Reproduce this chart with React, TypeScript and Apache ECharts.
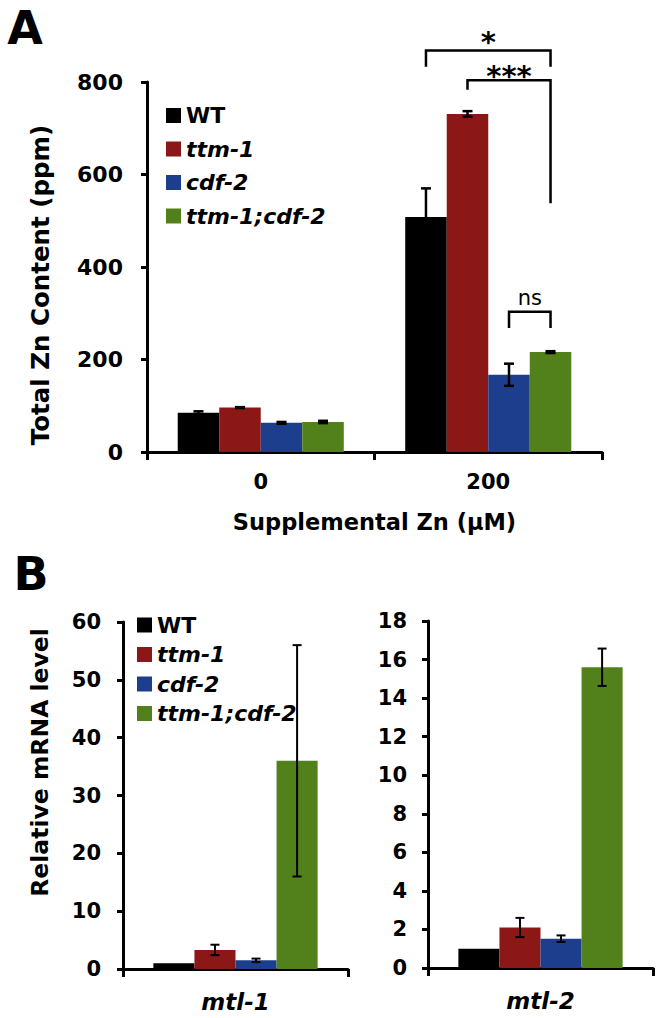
import React, { useEffect, useRef } from 'react';
import * as echarts from 'echarts';

// ---------- data ----------
const genotypes = ['WT', 'ttm-1', 'cdf-2', 'ttm-1;cdf-2'];
const genotypeColors = ['#000000', '#8b1717', '#1c3e8d', '#52801b'];

// Panel A: total Zn content (ppm) by supplemental Zn (µM)
const zincCategories = ['0', '200'];
const zincWT = [85, 508];
const zincWTErr = [3, 62];
const zincTtm1 = [96, 731];
const zincTtm1Err = [1, 6];
const zincCdf2 = [63, 167];
const zincCdf2Err = [2, 24];
const zincDouble = [65, 216];
const zincDoubleErr = [2.5, 2];
const zincAxisMin = 0;
const zincAxisMax = 800;
const zincAxisStep = 200;

// significance brackets in panel A (category 200)
const bracketLabels = ['*', '***', 'ns'];
const bracketLeftGenotype = [0, 1, 2];
const bracketRightGenotype = [3, 3, 3];
const bracketTopValue = [868, 804, 303];
const bracketLeftEndValue = [833, 783, 268];
const bracketRightEndValue = [833, 538, 268];
const bracketLabelValue = [886, 812, 333];

// Panel B: relative mRNA level
const mtl1Categories = ['mtl-1'];
const mtl1Values = [1.0, 3.3, 1.5, 36.0];
const mtl1Errors = [0, 0.9, 0.3, 20.0];
const mtl1AxisMax = 60;
const mtl1AxisStep = 10;

const mtl2Categories = ['mtl-2'];
const mtl2Values = [1.0, 2.1, 1.52, 15.6];
const mtl2Errors = [0, 0.5, 0.17, 0.97];
const mtl2AxisMax = 18;
const mtl2AxisStep = 2;

// ---------- styling ----------
const FONT = '"DejaVu Sans", "Liberation Sans", Arial, sans-serif';
const GAP = 0.27;

const zincSeriesValues = [zincWT, zincTtm1, zincCdf2, zincDouble];
const zincSeriesErrors = [zincWTErr, zincTtm1Err, zincCdf2Err, zincDoubleErr];

function barOffsetX(api: any, cat: number, gi: number) {
  const band = api.size([1, 0])[0];
  const groupW = band * (1 - GAP);
  const bw = groupW / genotypes.length;
  return api.coord([cat, 0])[0] - groupW / 2 + bw * (gi + 0.5);
}

function makeErrorRender(capHalf: number, lw: number) {
  return (params: any, api: any) => {
    const cat = api.value(0);
    const mean = api.value(1);
    const err = api.value(2);
    const gi = api.value(3);
    if (!err) return null;
    const cx = barOffsetX(api, cat, gi);
    const yHi = api.coord([cat, mean + err])[1];
    const yLo = api.coord([cat, mean - err])[1];
    const st = { stroke: '#000', lineWidth: lw };
    return {
      type: 'group',
      children: [
        { type: 'line', shape: { x1: cx, y1: yHi, x2: cx, y2: yLo }, style: st },
        { type: 'line', shape: { x1: cx - capHalf, y1: yHi, x2: cx + capHalf, y2: yHi }, style: st },
        { type: 'line', shape: { x1: cx - capHalf, y1: yLo, x2: cx + capHalf, y2: yLo }, style: st },
      ],
    };
  };
}

const bracketRender = (params: any, api: any) => {
  const i = params.dataIndex;
  const cat = api.value(0);
  const xl = barOffsetX(api, cat, api.value(1));
  const xr = barOffsetX(api, cat, api.value(2));
  const yTop = api.coord([cat, api.value(3)])[1];
  const yL = api.coord([cat, api.value(4)])[1];
  const yR = api.coord([cat, api.value(5)])[1];
  const yText = api.coord([cat, api.value(6)])[1];
  const label = bracketLabels[i];
  const isNs = label === 'ns';
  const st = { stroke: '#000', lineWidth: 2.5, fill: 'none' };
  return {
    type: 'group',
    children: [
      { type: 'polyline', shape: { points: [[xl, yL], [xl, yTop], [xr, yTop], [xr, yR]] }, style: st },
      {
        type: 'text',
        x: (xl + xr) / 2,
        y: yText,
        style: {
          text: label,
          fontFamily: FONT,
          fontSize: isNs ? 21 : 29,
          fontWeight: isNs ? 'normal' : 'bold',
          fill: '#000',
          align: 'center',
          verticalAlign: 'middle',
        },
      },
    ],
  };
};

const axisLineStyle = { show: true, lineStyle: { color: '#000', width: 3 } };
const axisTickStyle = (len: number) => ({ show: true, length: len, lineStyle: { color: '#000', width: 3 } });
const tickLabel = (size: number, margin: number) => ({
  fontFamily: FONT,
  fontSize: size,
  fontWeight: 'bold',
  color: '#000',
  margin,
});

const legendRich = (lh: number) => ({
  n: { fontFamily: FONT, fontSize: 22, fontWeight: 'bold', color: '#000', lineHeight: lh },
  i: { fontFamily: FONT, fontSize: 22, fontWeight: 'bold', fontStyle: 'italic', color: '#000', lineHeight: lh },
});
const legendFormatter = (name: string) => (name === 'WT' ? `{n|${name}}` : `{i|${name}}`);

function buildOption() {
  const series: any[] = [];
  genotypes.forEach((g, gi) => {
    series.push({
      type: 'bar',
      name: g,
      xAxisIndex: 0,
      yAxisIndex: 0,
      data: zincSeriesValues[gi],
      itemStyle: { color: genotypeColors[gi] },
      barGap: '0%',
      barCategoryGap: `${GAP * 100}%`,
      silent: true,
    });
  });
  [mtl1Values, mtl2Values].forEach((vals, k) => {
    genotypes.forEach((g, gi) => {
      series.push({
        type: 'bar',
        name: g,
        xAxisIndex: k + 1,
        yAxisIndex: k + 1,
        data: [vals[gi]],
        itemStyle: { color: genotypeColors[gi] },
        barGap: '0%',
        barCategoryGap: `${GAP * 100}%`,
        silent: true,
      });
    });
  });

  const zincErrData: number[][] = [];
  genotypes.forEach((g, gi) => {
    zincCategories.forEach((c, ci) => {
      zincErrData.push([ci, zincSeriesValues[gi][ci], zincSeriesErrors[gi][ci], gi]);
    });
  });
  series.push({
    type: 'custom',
    xAxisIndex: 0,
    yAxisIndex: 0,
    renderItem: makeErrorRender(5, 2.5),
    data: zincErrData,
    encode: { x: 0, y: 1 },
    z: 5,
    silent: true,
  });
  [
    [mtl1Values, mtl1Errors],
    [mtl2Values, mtl2Errors],
  ].forEach(([vals, errs], k) => {
    series.push({
      type: 'custom',
      xAxisIndex: k + 1,
      yAxisIndex: k + 1,
      renderItem: makeErrorRender(4.5, 2),
      data: genotypes.map((g, gi) => [0, vals[gi], errs[gi], gi]),
      encode: { x: 0, y: 1 },
      z: 5,
      silent: true,
    });
  });

  series.push({
    type: 'custom',
    xAxisIndex: 0,
    yAxisIndex: 0,
    renderItem: bracketRender,
    data: bracketLabels.map((l, i) => [
      1,
      bracketLeftGenotype[i],
      bracketRightGenotype[i],
      bracketTopValue[i],
      bracketLeftEndValue[i],
      bracketRightEndValue[i],
      bracketLabelValue[i],
    ]),
    encode: { x: 0, y: 3 },
    z: 6,
    silent: true,
    clip: false,
  });

  return {
    animation: false,
    backgroundColor: '#ffffff',
    textStyle: { fontFamily: FONT },
    grid: [
      { left: 147, top: 82, width: 455, height: 370, outerBoundsMode: 'none' },
      { left: 123, top: 622, width: 225, height: 347, outerBoundsMode: 'none' },
      { left: 428, top: 621, width: 225, height: 347, outerBoundsMode: 'none' },
    ],
    legend: [
      {
        data: genotypes,
        orient: 'vertical',
        left: 166,
        top: 104.5,
        itemWidth: 15,
        itemHeight: 15,
        itemGap: 11.5,
        padding: 0,
        icon: 'rect',
        selectedMode: false,
        formatter: legendFormatter,
        textStyle: { rich: legendRich(22) },
      },
      {
        data: genotypes,
        orient: 'vertical',
        left: 137,
        top: 614,
        itemWidth: 15,
        itemHeight: 15,
        itemGap: 7.5,
        padding: 0,
        icon: 'rect',
        selectedMode: false,
        formatter: legendFormatter,
        textStyle: { rich: legendRich(22) },
      },
    ],
    xAxis: [
      {
        type: 'category',
        gridIndex: 0,
        data: zincCategories,
        axisLine: axisLineStyle,
        axisTick: axisTickStyle(8),
        axisLabel: tickLabel(21, 19),
        splitLine: { show: false },
        name: 'Supplemental Zn (µM)',
        nameLocation: 'middle',
        nameGap: 58,
        nameMoveOverlap: false,
        nameTextStyle: { fontFamily: FONT, fontSize: 22.5, fontWeight: 'bold', color: '#000' },
      },
      {
        type: 'category',
        gridIndex: 1,
        data: mtl1Categories,
        axisLine: axisLineStyle,
        axisTick: axisTickStyle(8),
        axisLabel: { ...tickLabel(23, 21), fontStyle: 'italic' },
        splitLine: { show: false },
      },
      {
        type: 'category',
        gridIndex: 2,
        data: mtl2Categories,
        axisLine: axisLineStyle,
        axisTick: axisTickStyle(8),
        axisLabel: { ...tickLabel(23, 21), fontStyle: 'italic' },
        splitLine: { show: false },
      },
    ],
    yAxis: [
      {
        type: 'value',
        gridIndex: 0,
        min: zincAxisMin,
        max: zincAxisMax,
        interval: zincAxisStep,
        axisLine: axisLineStyle,
        axisTick: axisTickStyle(6),
        axisLabel: tickLabel(22, 24),
        splitLine: { show: false },
        name: 'Total Zn Content (ppm)',
        nameLocation: 'middle',
        nameGap: 94,
        nameMoveOverlap: false,
        nameTextStyle: {
          fontFamily: FONT,
          fontSize: 24.5,
          fontWeight: 'bold',
          color: '#000',
          padding: [0, 36, 0, 0],
        },
      },
      {
        type: 'value',
        gridIndex: 1,
        min: 0,
        max: mtl1AxisMax,
        interval: mtl1AxisStep,
        axisLine: axisLineStyle,
        axisTick: axisTickStyle(6),
        axisLabel: tickLabel(21, 22),
        splitLine: { show: false },
        name: 'Relative mRNA level',
        nameLocation: 'middle',
        nameGap: 71,
        nameMoveOverlap: false,
        nameTextStyle: {
          fontFamily: FONT,
          fontSize: 23.5,
          fontWeight: 'bold',
          color: '#000',
          padding: [0, 0, 0, 66],
        },
      },
      {
        type: 'value',
        gridIndex: 2,
        min: 0,
        max: mtl2AxisMax,
        interval: mtl2AxisStep,
        axisLine: axisLineStyle,
        axisTick: axisTickStyle(6),
        axisLabel: tickLabel(21, 21),
        splitLine: { show: false },
      },
    ],
    graphic: [
      {
        type: 'text',
        x: 25,
        y: 28,
        style: { text: 'A', fontFamily: FONT, fontSize: 46, fontWeight: 'bold', fill: '#000', align: 'center', verticalAlign: 'middle' },
      },
      {
        type: 'text',
        x: 31,
        y: 574,
        style: { text: 'B', fontFamily: FONT, fontSize: 46, fontWeight: 'bold', fill: '#000', align: 'center', verticalAlign: 'middle' },
      },
    ],
    series,
  };
}

export default function App() {
  const ref = useRef<HTMLDivElement>(null);
  useEffect(() => {
    if (!ref.current) return;
    const chart = echarts.init(ref.current, undefined, { renderer: 'svg' });
    chart.setOption(buildOption() as any);
    return () => chart.dispose();
  }, []);
  return (
    <div
      ref={ref}
      style={{ position: 'absolute', left: 0, top: 0, width: 662, height: 1018, background: '#fff' }}
    />
  );
}
